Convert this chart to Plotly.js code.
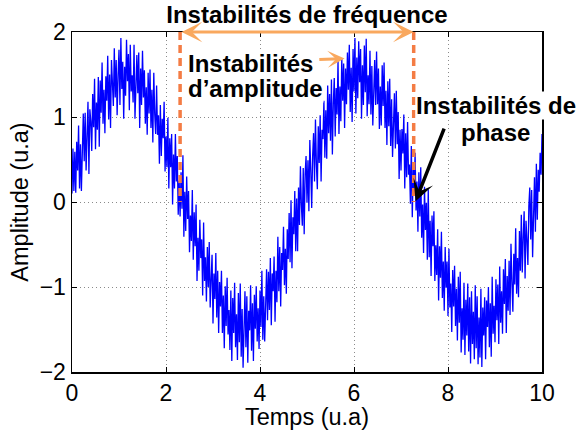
<!DOCTYPE html>
<html>
<head>
<meta charset="utf-8">
<script src="https://cdn.plot.ly/plotly-3.0.1.min.js"></script>
<style>html,body{margin:0;padding:0;background:#fff;}</style>
</head>
<body>
<div id="chart" style="width:578px;height:430px;"></div>
<script>
// Time axis: samples every 0.02 (u.a) from 0 to 10
var tStart = 0;
var tStep = 0.02;
// Noisy signal amplitude values
var amplitude = [
 0.10, 0.63, 0.13, 0.59, 0.11,  0.71, 0.37, 0.90, 0.16, 0.68,
 0.13, 0.78, 1.04, 0.48, 1.05,  0.37, 0.78, 1.18, 0.33, 1.09,
 0.95, 0.60, 1.27, 0.88, 1.45,  0.62, 1.17, 0.85, 1.47, 0.65,
 1.43, 1.05, 1.64, 0.92, 1.32,  0.81, 1.48, 1.19, 1.72, 0.97,
 1.50, 0.87, 1.67, 1.37, 1.13,  1.81, 1.23, 1.67, 1.02, 1.49,
 1.79, 1.14, 1.93, 1.33, 1.65,  0.98, 1.59, 1.25, 1.91, 1.42,
 1.74, 1.08, 1.85, 1.30, 1.49,  1.17, 1.85, 0.98, 1.57, 1.73,
 1.28, 1.76, 0.87, 1.57, 1.14,  1.78, 1.23, 1.55, 0.92, 1.35,
 0.79, 1.52, 1.04, 1.56, 0.87,  1.32, 0.70, 1.52, 1.03, 0.80,
 1.37, 0.79, 1.02, 0.45, 1.14,  0.54, 0.98, 0.75, 1.18, 0.36,
 0.77, 0.41, 0.99, 0.16, 0.75,  0.41, 0.80, -0.03, 0.56, 0.16,
 0.80, 0.24, 0.54, -0.15, 0.25,  -0.17, 0.35, -0.08, 0.55, -0.41,
 0.12, -0.34, 0.30, -0.20, 0.13,  -0.59, -0.16, -0.46, 0.14, -0.68,
 -0.12, -0.52, -0.03, -0.93, -0.42,  -0.81, -0.21, -0.66, -0.44, -1.10,
 -0.24, -0.93, -0.65, -1.17, -0.53,  -1.00, -0.47, -1.24, -0.91, -0.62,
 -1.43, -0.84, -1.14, -0.60, -1.36,  -0.81, -1.54, -0.94, -1.23, -0.81,
 -1.54, -1.10, -1.72, -0.99, -1.46,  -0.89, -1.56, -1.27, -1.74, -1.04,
 -1.87, -1.13, -1.54, -0.95, -1.71,  -1.32, -1.86, -1.07, -1.65, -0.96,
 -1.82, -1.26, -1.95, -1.41, -1.05,  -1.71, -1.11, -1.89, -1.28, -1.51,
 -0.98, -1.75, -1.19, -1.87, -1.09,  -1.49, -0.99, -1.64, -1.25, -1.73,
 -1.04, -1.47, -0.81, -1.62, -1.11,  -1.64, -1.15, -0.79, -1.39, -0.82,
 -1.27, -0.66, -1.45, -0.84, -1.05,  -0.64, -1.41, -0.81, -1.18, -0.41,
 -1.05, -0.53, -1.23, -0.60, -0.80,  -0.29, -0.98, -0.55, -1.08, -0.32,
 -0.67, -0.13, -0.71, 0.02, -0.78,  -0.18, -0.38, 0.13, -0.58, 0.04,
 -0.58, 0.17, -0.27, 0.42, -0.03,  -0.28, 0.40, -0.38, 0.33, 0.54,
 -0.01, 0.49, -0.11, 0.73, 0.38,  -0.07, 0.54, 0.81, 0.24, 0.97,
 0.44, 0.15, 0.89, 0.46, 1.02,  0.24, 0.85, 0.74, 1.19, 0.52,
 1.08, 0.51, 1.37, 0.81, 1.27,  0.72, 1.44, 0.56, 1.16, 1.46,
 0.77, 1.34, 1.03, 1.66, 0.80,  1.36, 0.95, 1.69, 1.19, 1.63,
 0.87, 1.57, 1.15, 1.76, 1.32,  1.85, 1.06, 1.58, 0.94, 1.80,
 1.30, 1.93, 1.04, 1.70, 1.22,  1.89, 1.41, 1.80, 0.98, 1.61,
 1.14, 1.84, 1.29, 1.92, 1.01,  1.49, 1.15, 1.78, 1.03, 1.60,
 0.90, 1.50, 1.67, 1.14, 1.77,  1.15, 1.57, 0.86, 1.36, 0.90,
 1.61, 1.13, 1.64, 0.87, 1.31,  0.67, 1.42, 0.89, 1.45, 0.66,
 1.21, 0.53, 0.97, 1.28, 0.63,  1.31, 0.68, 1.06, 0.27, 0.85,
 0.37, 0.86, 0.57, 1.03, 0.16,  0.81, 0.29, 0.94, 0.32, 0.44,
 -0.02, 0.66, -0.18, 0.41, 0.12,  0.58, -0.10, 0.24, -0.35, 0.35,
 -0.17, 0.41, -0.42, -0.03, -0.60,  0.18, -0.33, -0.01, -0.68, 0.15,
 -0.65, -0.22, -0.87, -0.16, -0.52,  -0.11, -0.93, -0.51, -0.86, -0.32,
 -1.16, -0.52, -0.89, -0.35, -1.13,  -0.70, -1.28, -0.53, -1.01, -0.70,
 -1.34, -0.55, -1.24, -0.96, -1.53,  -0.80, -1.23, -0.75, -1.46, -1.02,
 -1.63, -0.88, -1.42, -0.82, -1.77,  -1.25, -1.62, -0.95, -1.80, -1.15,
 -1.57, -0.96, -1.76, -1.12, -1.90,  -1.05, -1.67, -1.29, -1.85, -0.98,
 -1.72, -1.11, -1.91, -1.36, -1.83,  -1.02, -1.94, -1.24, -1.57, -1.12,
 -1.85, -1.16, -1.47, -1.00, -1.71,  -1.19, -1.82, -0.88, -1.55, -1.22,
 -1.65, -0.91, -1.39, -0.97, -1.67,  -0.76, -1.42, -1.05, -1.55, -0.79,
 -1.20, -0.67, -1.54, -0.87, -1.28,  -0.69, -1.33, -0.49, -0.94, -1.29,
 -0.61, -0.97, -0.31, -1.08, -0.66,  -1.12, -0.34, -0.81, -0.15, -0.83,
 -0.42, -0.11, -0.90, -0.22, -0.45,  -0.74, -0.05, 0.17, -0.44, 0.14,
 -0.65, 0.01, 0.29, -0.35, 0.45,  -0.21, 0.38, 0.12, 0.58, 0.32,
 0.80
];
var xTicks = [0, 2, 4, 6, 8, 10];
var yTicks = [-2, -1, 0, 1, 2];
var xRange = [0, 10];
var yRange = [-2, 2];
// Marked instants (dashed lines) and their top/bottom
var markTimes = [2.3, 7.27];
var markTop = 2;
var markBottom = 0;
var titleText = 'Instabilités de fréquence';
var xTitle = 'Temps (u.a)';
var yTitle = 'Amplitude (u.a)';
var ampLines = ['Instabilités', 'd’amplitude'];
var phaseLines = ['Instabilités de', 'phase'];

var lightOrange = '#F9A85E';
var darkOrange = '#F47C44';
var FONT = 'Liberation Sans, Arial, Helvetica, sans-serif';

var trace = {
  type: 'scatter', mode: 'lines',
  x0: tStart, dx: tStep, y: amplitude,
  line: {color: '#0000FF', width: 1.3},
  hoverinfo: 'skip'
};

var shapes = markTimes.map(function (t) {
  return {type: 'line', xref: 'x', yref: 'y', x0: t, x1: t, y0: markTop, y1: markBottom,
          line: {color: darkOrange, width: 3.5, dash: '8px,5px'}, layer: 'above'};
});

var bold = {family: FONT, size: 24, color: 'black', weight: 'bold'};
var regular = {family: FONT, size: 23.5, color: 'black'};

var annotations = [
  // double arrow between the two marked instants
  {xref: 'x', yref: 'y', axref: 'x', ayref: 'y', x: markTimes[1], y: markTop, ax: markTimes[0], ay: markTop,
   text: '', showarrow: true, arrowhead: 3, startarrowhead: 3, arrowside: 'end+start',
   arrowwidth: 3, arrowsize: 1.15, startarrowsize: 1.15, arrowcolor: lightOrange, standoff: 0, startstandoff: 0},
  // amplitude arrow
  {xref: 'x', yref: 'y', axref: 'x', ayref: 'y', x: 5.80, y: 1.687, ax: 5.23, ay: 1.675,
   text: '', showarrow: true, arrowhead: 3, arrowwidth: 3, arrowsize: 0.95, arrowcolor: lightOrange, standoff: 0},
  // phase arrow
  {xref: 'x', yref: 'y', axref: 'x', ayref: 'y', x: 7.31, y: 0.01, ax: 7.93, ay: 0.88,
   text: '', showarrow: true, arrowhead: 3, arrowwidth: 3.5, arrowsize: 1.0, arrowcolor: 'black', standoff: 0},
  {xref: 'x', yref: 'y', x: 2.45, y: 1.63, xanchor: 'left', yanchor: 'middle', text: ampLines[0],
   showarrow: false, font: bold, bgcolor: 'white', borderpad: 0},
  {xref: 'x', yref: 'y', x: 2.45, y: 1.34, xanchor: 'left', yanchor: 'middle', text: ampLines[1],
   showarrow: false, font: bold, bgcolor: 'white', borderpad: 0},
  {xref: 'x', yref: 'y', x: 9.03, y: 1.14, xanchor: 'center', yanchor: 'middle', text: phaseLines[0],
   showarrow: false, font: bold, bgcolor: 'white', borderpad: 0},
  {xref: 'x', yref: 'y', x: 9.0, y: 0.82, xanchor: 'center', yanchor: 'middle', text: phaseLines[1],
   showarrow: false, font: bold, bgcolor: 'white', borderpad: 0}
];

var axisCommon = {
  ticks: 'inside', ticklen: 5, tickwidth: 1, tickcolor: 'black',
  showline: true, linecolor: 'black', linewidth: 1.5, mirror: 'allticks',
  showgrid: true, gridcolor: '#8a8a8a', gridwidth: 1, griddash: '1px,3px',
  zeroline: false, tickfont: {family: FONT, size: 23, color: 'black'}, fixedrange: true
};

var layout = {
  width: 578, height: 430,
  margin: {l: 72, r: 36, t: 32, b: 58, pad: 0},
  paper_bgcolor: 'white', plot_bgcolor: 'white',
  font: {family: FONT, color: 'black'},
  showlegend: false,
  title: {text: titleText, font: bold, x: 0.5, xref: 'paper', xanchor: 'center',
          y: 0.966, yref: 'container', yanchor: 'middle'},
  xaxis: Object.assign({}, axisCommon, {range: xRange, tickvals: xTicks,
          title: {text: xTitle, font: regular, standoff: 0}}),
  yaxis: Object.assign({}, axisCommon, {range: yRange, tickvals: yTicks,
          title: {text: yTitle, font: regular, standoff: 4}}),
  shapes: shapes,
  annotations: annotations
};

Plotly.newPlot('chart', [trace], layout, {displayModeBar: false, staticPlot: true});
</script>
</body>
</html>
